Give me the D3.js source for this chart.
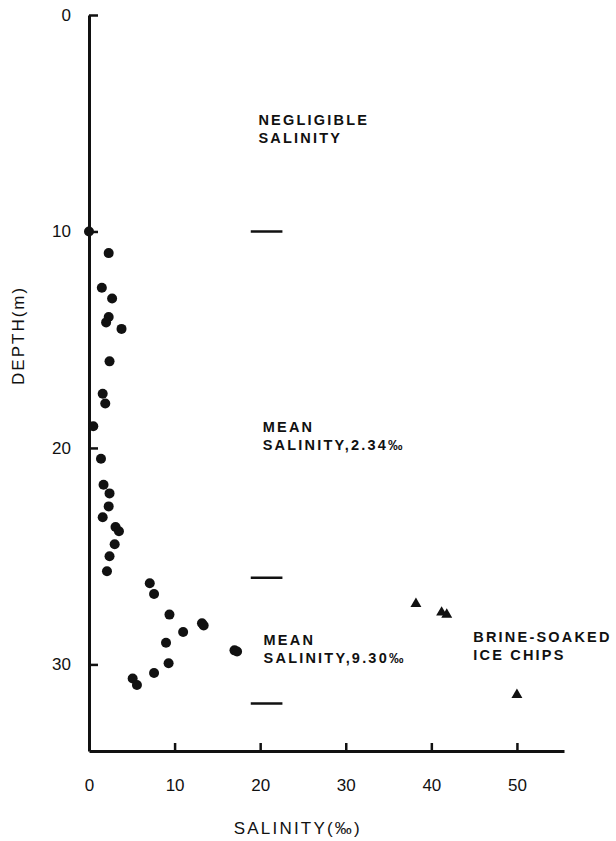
<!DOCTYPE html>
<html>
<head>
<meta charset="utf-8">
<script src="https://cdn.jsdelivr.net/npm/d3@7"></script>
<style>
  body { margin: 0; background: #fff; }
  svg text { font-family: "Liberation Sans", Arial, sans-serif; fill: #111; }
  .note { font-weight: bold; font-size: 14.5px; letter-spacing: 2.2px; }
</style>
</head>
<body>
<div id="chart"></div>
<script>
// sediment core samples (salinity per mil, depth m)
const iceSalinity = [0, 2.3, 1.5, 2.7, 2.3, 2.0, 3.8, 2.4, 1.6, 1.9, 0.5, 1.4,
  1.7, 2.4, 2.3, 1.6, 3.1, 3.5, 3.0, 2.4, 2.1, 7.1, 7.6, 9.4, 13.2, 13.4,
  11.0, 9.0, 17.0, 17.3, 9.3, 7.6, 5.1, 5.6];
const iceDepth = [10, 11.0, 12.6, 13.1, 13.95, 14.2, 14.5, 16.0, 17.5, 17.95, 19.0, 20.5,
  21.7, 22.1, 22.7, 23.2, 23.65, 23.85, 24.45, 25.0, 25.7, 26.25, 26.75, 27.7, 28.1, 28.2,
  28.5, 29.0, 29.35, 29.4, 29.95, 30.4, 30.65, 30.95];
const brineSalinity = [38.2, 41.2, 41.8, 50.0];
const brineDepth = [27.2, 27.6, 27.7, 31.4];
const layerBounds = [10, 26, 31.8];
const xTicks = [0, 10, 20, 30, 40, 50];
const yTicks = [0, 10, 20, 30];

const width = 616, height = 841;
const svg = d3.select('#chart').append('svg')
  .attr('width', width)
  .attr('height', height);

const x = d3.scaleLinear().domain([0, 55.5]).range([89, 564]);
const y = d3.scaleLinear().domain([0, 34]).range([15, 751]);

// axes
const xAxis = svg.append('g')
  .attr('transform', `translate(0,${y(34)})`)
  .call(d3.axisBottom(x).tickValues(xTicks).tickSize(-8).tickSizeOuter(0).tickPadding(28).tickFormat(d3.format('d')));
const yAxis = svg.append('g')
  .attr('transform', `translate(${x(0)},0)`)
  .call(d3.axisLeft(y).tickValues(yTicks).tickSize(-9).tickSizeOuter(0).tickPadding(18).tickFormat(d3.format('d')));

[xAxis, yAxis].forEach(a => {
  a.select('.domain').attr('stroke', '#111').attr('stroke-width', 3);
  a.selectAll('.tick line').attr('stroke', '#111').attr('stroke-width', 2.5);
  a.selectAll('.tick text').attr('font-size', 17).attr('fill', '#111')
    .attr('font-family', '"Liberation Sans", Arial, sans-serif');
});
xAxis.selectAll('.tick').filter(d => d === 0).select('line').remove();

svg.append('text')
  .attr('x', x(24.4)).attr('y', 834)
  .attr('text-anchor', 'middle')
  .attr('font-size', 17).attr('letter-spacing', 2.2)
  .text('SALINITY(‰)');

svg.append('text')
  .attr('transform', `translate(24,${y(14.8)}) rotate(-90)`)
  .attr('text-anchor', 'middle')
  .attr('font-size', 17).attr('letter-spacing', 2)
  .text('DEPTH(m)');

// layer boundary dashes
svg.selectAll('.bound')
  .data(layerBounds)
  .enter().append('line')
    .attr('class', 'bound')
    .attr('x1', x(18.9)).attr('x2', x(22.6))
    .attr('y1', d => y(d)).attr('y2', d => y(d))
    .attr('stroke', '#111').attr('stroke-width', 2.5);

// samples
svg.selectAll('.pt')
  .data(iceSalinity.map((s, i) => ({ s, d: iceDepth[i] })))
  .enter().append('circle')
    .attr('class', 'pt')
    .attr('cx', d => x(d.s))
    .attr('cy', d => y(d.d))
    .attr('r', 5)
    .attr('fill', '#111');

const tri = d3.symbol().type(d3.symbolTriangle).size(52);
svg.selectAll('.tri')
  .data(brineSalinity.map((s, i) => ({ s, d: brineDepth[i] })))
  .enter().append('path')
    .attr('class', 'tri')
    .attr('transform', d => `translate(${x(d.s)},${y(d.d)})`)
    .attr('d', tri)
    .attr('fill', '#111');

// annotations
const notes = [
  { lines: ['NEGLIGIBLE', 'SALINITY'], s: 19.8, d: 5.1 },
  { lines: ['MEAN', 'SALINITY,2.34‰'], s: 20.3, d: 19.25 },
  { lines: ['MEAN', 'SALINITY,9.30‰'], s: 20.4, d: 29.1 },
  { lines: ['BRINE-SOAKED', 'ICE CHIPS'], s: 44.9, d: 28.95 }
];
notes.forEach(n => {
  const t = svg.append('text')
    .attr('class', 'note')
    .attr('x', x(n.s))
    .attr('y', y(n.d));
  n.lines.forEach((l, i) => {
    t.append('tspan')
      .attr('x', x(n.s))
      .attr('dy', i === 0 ? 0 : 18)
      .text(l);
  });
});
</script>
</body>
</html>
